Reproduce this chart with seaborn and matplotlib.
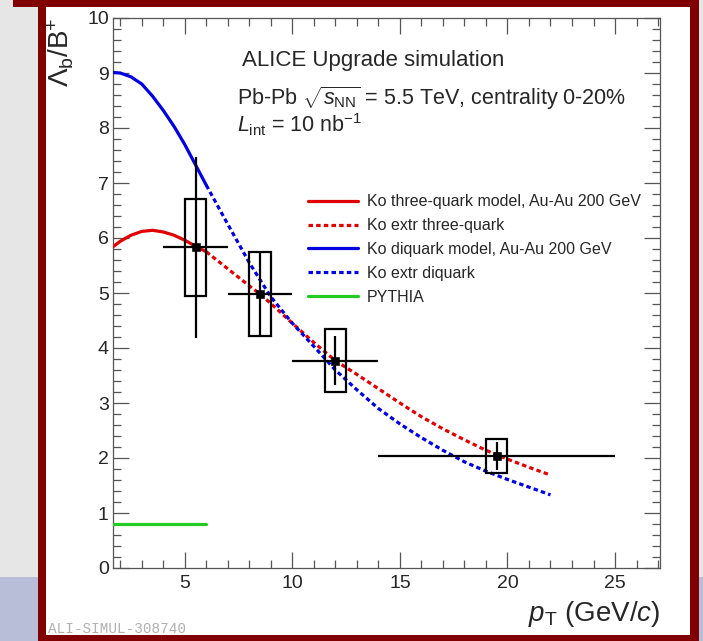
import numpy as np
import pandas as pd
import matplotlib
matplotlib.use("Agg")
import matplotlib.pyplot as plt
from matplotlib.patches import Rectangle
from matplotlib.ticker import MultipleLocator
import seaborn as sns

# ---------------- data ----------------
ko3q_pt = [1.66, 2.0, 2.5, 3.0, 3.5, 4.0, 4.5, 5.0, 5.5, 6.0]
ko3q_val = [5.84, 5.94, 6.05, 6.12, 6.14, 6.11, 6.05, 5.96, 5.85, 5.75]
ko3q_extr_pt = [6.0, 7.0, 8.0, 8.5, 9.0, 10.0, 11.0, 12.0, 13.0, 14.0, 15.0,
                16.0, 17.0, 18.0, 19.0, 20.0, 21.0, 22.0]
ko3q_extr_val = [5.75, 5.44, 5.13, 4.98, 4.81, 4.45, 4.10, 3.77, 3.52, 3.26, 3.00,
                 2.75, 2.53, 2.33, 2.14, 1.98, 1.83, 1.69]
kodq_pt = [1.66, 2.0, 2.5, 3.0, 3.5, 4.0, 4.5, 5.0, 5.5, 6.0]
kodq_val = [9.01, 9.00, 8.93, 8.80, 8.58, 8.32, 8.03, 7.70, 7.33, 6.96]
kodq_extr_pt = [6.0, 7.0, 8.0, 9.0, 10.0, 11.0, 12.0, 13.0, 14.0, 15.0, 16.0,
                17.0, 18.0, 19.0, 20.0, 21.0, 22.0]
kodq_extr_val = [6.96, 6.25, 5.55, 4.93, 4.45, 4.03, 3.60, 3.24, 2.90, 2.62, 2.37,
                 2.14, 1.93, 1.76, 1.61, 1.47, 1.33]
pythia_pt = [0.0, 6.0]
pythia_val = [0.8, 0.8]

pt = [5.5, 8.5, 12.0, 19.5]
ratio = [5.83, 4.98, 3.77, 2.04]
pt_lo = [4.0, 7.0, 10.0, 14.0]
pt_hi = [7.0, 10.0, 14.0, 25.0]
stat_err = [1.65, 0.74, 0.45, 0.26]
sys_err = [0.88, 0.76, 0.57, 0.31]

legend_labels = ["Ko three-quark model, Au-Au 200 GeV", "Ko extr three-quark",
                 "Ko diquark model, Au-Au 200 GeV", "Ko extr diquark", "PYTHIA"]

# ---------------- style ----------------
sns.set_style("ticks")
plt.rcParams["font.family"] = ["Liberation Sans", "DejaVu Sans"]
plt.rcParams["mathtext.fontset"] = "custom"
plt.rcParams["mathtext.rm"] = "Liberation Sans"
plt.rcParams["mathtext.it"] = "Liberation Sans:italic"
plt.rcParams["mathtext.bf"] = "Liberation Sans:bold"

W, H = 703, 641
fig = plt.figure(figsize=(W / 100, H / 100), dpi=100)
fig.patch.set_facecolor("#e6e6e6")


def px_rect(x0, y0, x1, y1, color, z):
    r = Rectangle((x0 / W, 1 - y1 / H), (x1 - x0) / W, (y1 - y0) / H,
                  transform=fig.transFigure, facecolor=color, edgecolor="none",
                  zorder=z)
    fig.patches.append(r)


px_rect(0, 577, W, H, "#b8bdd8", -20)      # slide band
px_rect(46, 7, 690, 635, "white", -10)     # white panel
maroon = "#800000"
px_rect(13, 0, 699, 7, maroon, 5)
px_rect(38, 0, 46, H, maroon, 5)
px_rect(690, 0, 699, H, maroon, 5)
px_rect(38, 635, 699, H, maroon, 5)

ax = fig.add_axes([113 / W, 1 - 568 / H, (660 - 113) / W, (568 - 18) / H])
ax.set_facecolor("none")

red = "#e00000"
blue = "#0000e0"
green = "#22cc22"
dotted = (0, (1.4, 1.0))

curves = [
    (ko3q_pt, ko3q_val, red, "-", legend_labels[0]),
    (ko3q_extr_pt, ko3q_extr_val, red, dotted, legend_labels[1]),
    (kodq_pt, kodq_val, blue, "-", legend_labels[2]),
    (kodq_extr_pt, kodq_extr_val, blue, dotted, legend_labels[3]),
    (pythia_pt, pythia_val, green, "-", legend_labels[4]),
]
handles = []
for xs, ys, c, ls, lab in curves:
    df = pd.DataFrame({"pT": xs, "ratio": ys})
    n0 = len(ax.lines)
    sns.lineplot(data=df, x="pT", y="ratio", color=c, linestyle=ls, lw=2.3,
                 ax=ax, label=lab, legend=False, zorder=3)
    handles.append(ax.lines[n0])

# systematic boxes
for x, y, s in zip(pt, ratio, sys_err):
    ax.add_patch(Rectangle((x - 0.5, y - s), 1.0, 2 * s, facecolor="none",
                           edgecolor="black", lw=1.6, zorder=4))

# stat error bars
xerr = [np.array(pt) - np.array(pt_lo), np.array(pt_hi) - np.array(pt)]
ax.errorbar(pt, ratio, xerr=xerr, yerr=stat_err, fmt="none", ecolor="black",
            elinewidth=1.6, capsize=0, zorder=5)
sns.scatterplot(x=pt, y=ratio, marker="s", color="black", s=28, ax=ax,
                zorder=6, legend=False, edgecolor="black")

ax.set_xlim(1.664, 27.09)
ax.set_ylim(0, 10)
ax.xaxis.set_major_locator(MultipleLocator(5))
ax.xaxis.set_minor_locator(MultipleLocator(1))
ax.yaxis.set_major_locator(MultipleLocator(1))
ax.yaxis.set_minor_locator(MultipleLocator(0.2))
ax.set_xticks([5, 10, 15, 20, 25])
ax.set_yticks(range(0, 11))

for sp in ax.spines.values():
    sp.set_color("#555555")
    sp.set_linewidth(0.9)
ax.tick_params(which="both", direction="in", top=True, right=True,
               color="#555555", width=0.9)
ax.tick_params(which="major", length=11.5, labelsize=14)
ax.tick_params(which="minor", length=5.8)
ax.tick_params(axis="x", which="major", pad=5)
ax.tick_params(axis="y", which="major", pad=3)

ax.set_xlabel(r"$p_{\mathrm{T}}$ (GeV/$c$)", fontsize=20, loc="right")
ax.xaxis.set_label_coords(1.0, -0.097)
ax.xaxis.label.set_va("baseline")
ax.set_ylabel(r"$\Lambda_{\mathrm{b}}/\mathrm{B}^{+}$", fontsize=20, loc="top")
ax.yaxis.set_label_coords(-0.068, 1.0)

ax.legend(handles, legend_labels, loc="upper left",
          bbox_to_anchor=(308 / W, 1 - 194.5 / H), bbox_transform=fig.transFigure,
          frameon=False, fontsize=11.5, handlelength=3.1, handletextpad=0.6,
          labelspacing=0.55, borderpad=0, borderaxespad=0)

fig.text(242 / W, 1 - 66 / H, "ALICE Upgrade simulation", fontsize=16,
         va="baseline", ha="left")
fig.text(237 / W, 1 - 105.5 / H,
         r"Pb-Pb $\sqrt{s_{\mathrm{NN}}}$ = 5.5 TeV, centrality 0-20%",
         fontsize=15.5, va="baseline", ha="left")
fig.text(237 / W, 1 - 132 / H, r"$L_{\mathrm{int}}$ = 10 nb$^{-1}$",
         fontsize=15.5, va="baseline", ha="left")
fig.text(48 / W, 1 - 633 / H, "ALI-SIMUL-308740", fontsize=10.4,
         family=["Liberation Mono", "DejaVu Sans Mono"], color="#b0b0b0",
         va="baseline", ha="left")

fig.savefig("out.png", dpi=100)
